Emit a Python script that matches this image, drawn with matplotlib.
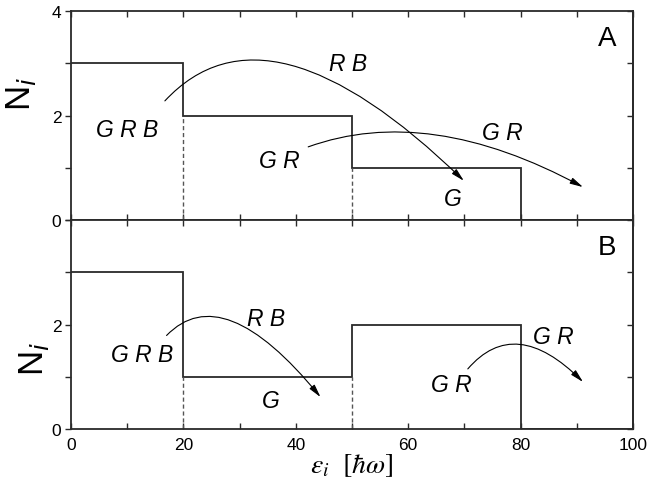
import matplotlib.pyplot as plt
import numpy as np
from matplotlib.patches import FancyArrowPatch
from matplotlib.path import Path
from matplotlib.ticker import MultipleLocator

plt.rcParams['font.family'] = ['Liberation Sans', 'DejaVu Sans']

# level edges (energy, in hbar*omega) and occupation numbers
edges = [0, 20, 50, 80, 100]
occ_a = [3, 2, 1, 0]
occ_b = [3, 1, 2, 0]

# labels: (text, x, y)
labels_a = [('G R B', 10, 1.74), ('R B', 49.3, 3.0), ('G R', 37, 1.13),
            ('G R', 76.7, 1.68), ('G', 68, 0.42)]
labels_b = [('G R B', 12.6, 1.43), ('R B', 34.7, 2.12), ('G', 35.6, 0.55),
            ('G R', 67.6, 0.86), ('G R', 85.8, 1.78)]

# arrows: start, control, end (quadratic curves)
arrows_a = [[(16.7, 2.28), (35, 4.4), (69.9, 0.75)],
            [(42.2, 1.40), (63.6, 2.23), (91.1, 0.63)]]
arrows_b = [[(17, 1.79), (27, 2.9), (44.4, 0.61)],
            [(70.6, 1.15), (79, 2.2), (91.1, 0.9)]]

fig = plt.figure(figsize=(6.48, 4.85), dpi=100)
ax1 = fig.add_axes([0.1096, 0.5443, 0.8673, 0.4309])
ax2 = fig.add_axes([0.1096, 0.1134, 0.8673, 0.4309])

lc = '#2a2a2a'


def panel(ax, occ, labels, arrows, tag):
    ax.stairs(occ, edges, baseline=None, color=lc, lw=1.3)
    # dashed guides below the inner steps
    for k in range(1, len(occ)):
        low = min(occ[k - 1], occ[k])
        if low > 0:
            ax.plot([edges[k], edges[k]], [0, low], ls=(0, (3, 2)), color='#555555', lw=1.0)
    for t, x, y in labels:
        ax.text(x, y, t, fontsize=16.5, style='italic', ha='center', va='center')
    for p0, c, p1 in arrows:
        path = Path([p0, c, p1], [Path.MOVETO, Path.CURVE3, Path.CURVE3])
        arr = FancyArrowPatch(path=path, arrowstyle='-|>,head_length=0.65,head_width=0.16',
                              mutation_scale=12, color='black', lw=0.8)
        ax.add_patch(arr)
    ax.text(0.97, 0.87, tag, transform=ax.transAxes, fontsize=20, ha='right', va='center')
    ax.set_xlim(0, 100)
    ax.set_ylim(0, 4)
    ax.xaxis.set_major_locator(MultipleLocator(20))
    ax.xaxis.set_minor_locator(MultipleLocator(10))
    ax.yaxis.set_major_locator(MultipleLocator(2))
    ax.yaxis.set_minor_locator(MultipleLocator(1))
    ax.tick_params(axis='x', which='both', direction='in', top=True, length=4, width=1, pad=6,
                   labelsize=12.5, color=lc)
    ax.tick_params(axis='y', which='both', direction='out', length=4, width=1, pad=3,
                   labelsize=12.5, color=lc)
    for s in ax.spines.values():
        s.set_linewidth(1.3)
        s.set_color(lc)


panel(ax1, occ_a, labels_a, arrows_a, 'A')
panel(ax2, occ_b, labels_b, arrows_b, 'B')

# right-side inward ticks
for ax in (ax1, ax2):
    sec = ax.secondary_yaxis('right')
    sec.yaxis.set_major_locator(MultipleLocator(1))
    sec.tick_params(direction='in', length=4, width=1, labelright=False, color=lc)
    sec.spines['right'].set_linewidth(1.3)
    sec.spines['right'].set_color(lc)

ax1.tick_params(axis='x', labelbottom=False)
ax2.set_yticks([0, 2])

fig.text(0.033, 0.806, 'N$_i$', fontsize=25, rotation=90, ha='center', va='center')
fig.text(0.052, 0.26, 'N$_i$', fontsize=25, rotation=90, ha='center', va='center')

ax2.set_xlabel(r'$\varepsilon_i\ \ [\hbar\omega]$', fontsize=20, labelpad=-1,
               math_fontfamily='stix')

fig.savefig('out.png', dpi=100)
